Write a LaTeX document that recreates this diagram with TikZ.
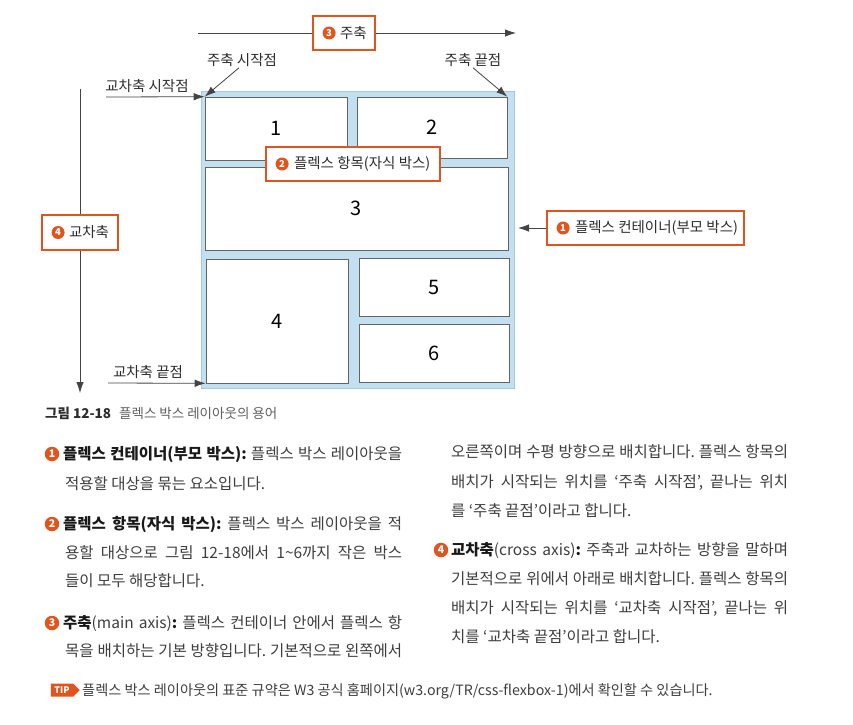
\documentclass[tikz,border=0pt]{standalone}
\usepackage{fontspec}
\setmainfont{Noto Sans CJK KR}
\usetikzlibrary{arrows.meta,positioning,shapes.symbols}

\definecolor{flexorange}{RGB}{224,84,30}
\definecolor{flexblue}{RGB}{194,224,240}
\definecolor{flexblueline}{RGB}{165,202,224}
\definecolor{itemline}{RGB}{100,100,100}
\definecolor{arrowgray}{RGB}{68,68,68}
\definecolor{labelgray}{RGB}{45,45,45}
\definecolor{bodygray}{RGB}{62,62,62}
\definecolor{bodyblack}{RGB}{25,25,25}
\definecolor{capgray}{RGB}{95,95,95}

\frenchspacing

\begin{document}
\begin{tikzpicture}[x=1pt, y=-1pt,
        item/.style={draw=itemline, line width=0.6pt, fill=white, inner sep=0pt, font=\fontsize{20}{20}\selectfont},
        flag/.style={draw=flexorange, line width=1.2pt, fill=white, inner sep=0pt, minimum height=34pt},
        numdot/.style={circle, fill=flexorange, text=white, inner sep=0pt, minimum size=13pt, font=\bfseries\fontsize{9.5}{9.5}\selectfont},
        bigdot/.style={numdot, minimum size=14.5pt, font=\bfseries\fontsize{10.5}{10.5}\selectfont},
        lbl/.style={text=labelgray, inner sep=1pt, font=\fontsize{14.5}{14.5}\selectfont},
        axis/.style={draw=arrowgray, line width=0.8pt, -{Latex[length=11pt,width=7.5pt]}},
        bodyline/.style={anchor=base west, inner sep=0pt, text=bodygray, font=\fontsize{15.5}{15.5}\selectfont}]
        \fill[white] (0,0) rectangle (853,724);

        % flex container and items
        \node[draw=flexblueline, fill=flexblue, line width=0.6pt, inner sep=0pt, minimum width=313pt, minimum height=297pt] (container) at (357.5,239.5) {};
        \node[item, minimum width=142pt, minimum height=63pt] (item1) at (276,128.5) {1};
        \node[item, minimum width=150pt, minimum height=61pt] (item2) at (432,127.5) {2};
        \node[item, minimum width=303pt, minimum height=83pt] (item3) at (356.5,208.5) {3};
        \node[item, minimum width=142pt, minimum height=124pt] (item4) at (277,321) {4};
        \node[item, minimum width=150pt, minimum height=58pt] (item5) at (434,287) {5};
        \node[item, minimum width=150pt, minimum height=58pt] (item6) at (434,353) {6};

        % main axis
        \coordinate (mainstart) at (198,33);
        \coordinate (mainend) at (516,33);
        \node[flag, minimum width=62pt] (mainlbl) at (344,33) {};
        \node[numdot, anchor=west] (mainnum) at ([xshift=10pt]mainlbl.west) {3};
        \node[lbl, right=3pt of mainnum] (maintext) {주축};
        \draw[axis] (mainstart) -- (mainlbl) -- (mainend);

        % cross axis
        \coordinate (crossstart) at (80,89);
        \coordinate (crossend) at (80,393);
        \node[flag, minimum width=76pt, minimum height=35pt] (crosslbl) at (80,232.5) {};
        \node[numdot, anchor=west] (crossnum) at ([xshift=10pt]crosslbl.west) {4};
        \node[lbl, right=3pt of crossnum] (crosstext) {교차축};
        \draw[axis] (crossstart) -- (crosslbl) -- (crossend);

        % item and container labels
        \node[flag, minimum width=174pt] (itemlbl) at (353,164) {};
        \node[numdot, anchor=west] (itemnum) at ([xshift=10pt]itemlbl.west) {2};
        \node[lbl, right=4pt of itemnum] (itemtext) {플렉스 항목(자식 박스)};

        \node[flag, minimum width=197pt] (contlbl) at (645.5,228) {};
        \node[numdot, anchor=west] (contnum) at ([xshift=10pt]contlbl.west) {1};
        \node[lbl, right=4pt of contnum] (conttext) {플렉스 컨테이너(부모 박스)};
        \coordinate (contpt) at (518,228);
        \draw[axis] (contlbl) -- (contpt);

        % start and end points
        \node[lbl] (mstartlbl) at (242,60) {주축 시작점};
        \draw[axis] ([xshift=-3pt]mstartlbl.south) -- (item1.north west);
        \node[lbl] (mendlbl) at (473,60) {주축 끝점};
        \draw[axis] (mendlbl.south) -- (item2.north east);
        \node[lbl] (cstartlbl) at (147,86) {교차축 시작점};
        \coordinate (cstartfrom) at (106,97);
        \draw[axis] (cstartfrom) -- (item1.north west);
        \node[lbl] (cendlbl) at (148,372) {교차축 끝점};
        \coordinate (cendfrom) at (108,383);
        \draw[axis] (cendfrom) -- (item4.south west);

        % caption
        \node[anchor=base west, inner sep=0pt, text=capgray, font=\fontsize{13.5}{13.5}\selectfont] (caption) at (45,418)
                {{\bfseries\color{labelgray}그림 12-18}\hspace{8pt}플렉스 박스 레이아웃의 용어};

        % left column
        \node[bigdot] (bullet1) at (52,454) {1};
        \node[bodyline] (line1) at (63,459) {\makebox[339pt][s]{{\bfseries\color{bodyblack}플렉스 컨테이너(부모 박스):} 플렉스 박스 레이아웃을}};
        \node[bodyline] (line2) at (65,489) {적용할 대상을 묶는 요소입니다.};
        \node[bigdot] (bullet2) at (52,524) {2};
        \node[bodyline] (line3) at (63,529) {\makebox[339pt][s]{{\bfseries\color{bodyblack}플렉스 항목(자식 박스):} 플렉스 박스 레이아웃을 적}};
        \node[bodyline] (line4) at (65,558) {\makebox[337pt][s]{용할 대상으로 그림 12-18에서 1\textasciitilde 6까지 작은 박스}};
        \node[bodyline] (line5) at (65,586) {들이 모두 해당합니다.};
        \node[bigdot] (bullet3) at (52,623) {3};
        \node[bodyline] (line6) at (63,628) {\makebox[339pt][s]{{\bfseries\color{bodyblack}주축}(main axis){\bfseries\color{bodyblack}:} 플렉스 컨테이너 안에서 플렉스 항}};
        \node[bodyline] (line7) at (65,656) {\makebox[337pt][s]{목을 배치하는 기본 방향입니다. 기본적으로 왼쪽에서}};

        % right column
        \node[bodyline] (line8) at (451,457) {\makebox[337pt][s]{오른쪽이며 수평 방향으로 배치합니다. 플렉스 항목의}};
        \node[bodyline] (line9) at (451,487) {\makebox[337pt][s]{배치가 시작되는 위치를 ‘주축 시작점’, 끝나는 위치}};
        \node[bodyline] (line10) at (451,516) {를 ‘주축 끝점’이라고 합니다.};
        \node[bigdot] (bullet4) at (441,550) {4};
        \node[bodyline] (line11) at (451,555) {\makebox[337pt][s]{{\bfseries\color{bodyblack}교차축}(cross axis){\bfseries\color{bodyblack}:} 주축과 교차하는 방향을 말하며}};
        \node[bodyline] (line12) at (451,584) {\makebox[337pt][s]{기본적으로 위에서 아래로 배치합니다. 플렉스 항목의}};
        \node[bodyline] (line13) at (451,613) {\makebox[337pt][s]{배치가 시작되는 위치를 ‘교차축 시작점’, 끝나는 위}};
        \node[bodyline] (line14) at (451,642) {치를 ‘교차축 끝점’이라고 합니다.};

        % tip
        \node[signal, signal to=east, fill=flexorange, text=white, inner sep=1pt, minimum height=13pt, minimum width=29pt,
                font=\bfseries\fontsize{9}{9}\selectfont] (tip) at (62,690) {TIP};
        \node[anchor=base west, inner sep=0pt, text=bodygray, font=\fontsize{14.2}{14.2}\selectfont] (tiptext) at (82,695)
                {플렉스 박스 레이아웃의 표준 규약은 W3 공식 홈페이지(w3.org/TR/css-flexbox-1)에서 확인할 수 있습니다.};
\end{tikzpicture}
\end{document}
